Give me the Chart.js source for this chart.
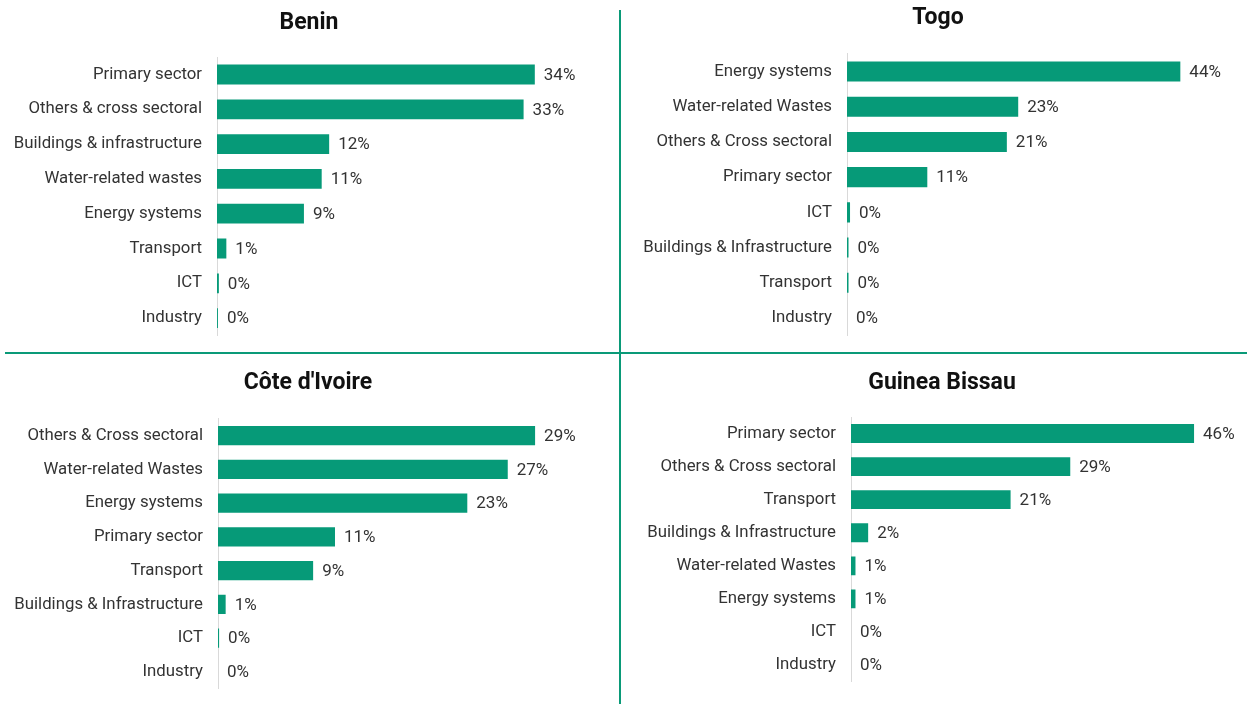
<!DOCTYPE html>
<html>
<head>
<meta charset="utf-8">
<script src="https://cdn.jsdelivr.net/npm/chart.js@4.4.1/dist/chart.umd.min.js"></script>
<style>
  body { margin: 0; background: #fff; }
  #wrap { position: relative; width: 1247px; height: 704px; overflow: hidden; }
  .panel { position: absolute; }
  .line { position: absolute; background: #0a9a78; }
</style>
</head>
<body>
<div id="wrap">
  <div class="line" style="left:619px; top:10px; width:2px; height:694px;"></div>
  <div class="line" style="left:5px; top:352px; width:1242px; height:2px;"></div>
  <div class="panel" style="left:0px; top:0px; width:618px; height:350px;"><canvas id="benin"></canvas></div>
  <div class="panel" style="left:629px; top:0px; width:618px; height:350px;"><canvas id="togo"></canvas></div>
  <div class="panel" style="left:0px; top:356px; width:616px; height:348px;"><canvas id="cote"></canvas></div>
  <div class="panel" style="left:637px; top:356px; width:610px; height:348px;"><canvas id="guinea"></canvas></div>
</div>
<script>
// values in % of total
const beninLabels = ["Primary sector", "Others & cross sectoral", "Buildings & infrastructure", "Water-related wastes", "Energy systems", "Transport", "ICT", "Industry"];
const beninValues = [34, 32.8, 12, 11.2, 9.3, 1.0, 0.2, 0.1];

const togoLabels = ["Energy systems", "Water-related Wastes", "Others & Cross sectoral", "Primary sector", "ICT", "Buildings & Infrastructure", "Transport", "Industry"];
const togoValues = [44, 22.6, 21.1, 10.6, 0.4, 0.2, 0.2, 0];

const coteLabels = ["Others & Cross sectoral", "Water-related Wastes", "Energy systems", "Primary sector", "Transport", "Buildings & Infrastructure", "ICT", "Industry"];
const coteValues = [29, 26.5, 22.8, 10.7, 8.7, 0.7, 0.1, 0];

const guineaLabels = ["Primary sector", "Others & Cross sectoral", "Transport", "Buildings & Infrastructure", "Water-related Wastes", "Energy systems", "ICT", "Industry"];
const guineaValues = [46, 29.4, 21.4, 2.3, 0.6, 0.6, 0, 0];

const green = "#069a78";
Chart.defaults.font.family = "Roboto, 'Noto Sans', sans-serif";

const pctLabels = {
  id: "pctLabels",
  afterDatasetsDraw(chart) {
    const ctx = chart.ctx;
    const meta = chart.getDatasetMeta(0);
    ctx.save();
    ctx.font = "17px Roboto, 'Noto Sans', sans-serif";
    ctx.fillStyle = "#333";
    ctx.textAlign = "left";
    ctx.textBaseline = "middle";
    meta.data.forEach((bar, i) => {
      const v = chart.data.datasets[0].data[i];
      ctx.fillText(Math.round(v) + "%", bar.x + 9, bar.y + 1);
    });
    ctx.restore();
  }
};

function makeChart(id, title, labels, values, opts) {
  new Chart(document.getElementById(id), {
    type: "bar",
    data: {
      labels: labels,
      datasets: [{
        data: values,
        backgroundColor: green,
        borderWidth: 0,
        categoryPercentage: 1,
        barPercentage: 0.57
      }]
    },
    options: {
      indexAxis: "y",
      responsive: true,
      maintainAspectRatio: false,
      animation: false,
      layout: { padding: { left: 0, right: 0, top: 0, bottom: opts.padBottom } },
      plugins: {
        legend: { display: false },
        tooltip: { enabled: false },
        title: {
          display: true,
          text: title,
          color: "#111",
          font: { size: 23, weight: "bold" },
          padding: { top: opts.titleTop, bottom: opts.titleBottom }
        }
      },
      scales: {
        x: { display: false, min: 0, max: opts.xMax },
        y: {
          afterFit: (scale) => {
            scale.width = opts.axisWidth;
            scale.paddingTop = 0;
            scale.paddingBottom = 0;
          },
          grid: { display: false, drawTicks: false },
          border: { display: true, color: "#d9d9d9", width: 1 },
          ticks: { color: "#333", padding: 15, font: { size: 16.8 } }
        }
      }
    },
    plugins: [pctLabels]
  });
}

makeChart("benin", "Benin", beninLabels, beninValues,
  { xMax: 42.9, axisWidth: 217, titleTop: 9.2, titleBottom: 20.3, padBottom: 14.5 });
makeChart("togo", "Togo", togoLabels, togoValues,
  { xMax: 52.8, axisWidth: 218, titleTop: 4.7, titleBottom: 21.6, padBottom: 14.4 });
makeChart("cote", "Côte d'Ivoire", coteLabels, coteValues,
  { xMax: 36.4, axisWidth: 218, titleTop: 13.2, titleBottom: 21.9, padBottom: 15.1 });
makeChart("guinea", "Guinea Bissau", guineaLabels, guineaValues,
  { xMax: 53.1, axisWidth: 214, titleTop: 13.2, titleBottom: 20.2, padBottom: 22.4 });
</script>
</body>
</html>
